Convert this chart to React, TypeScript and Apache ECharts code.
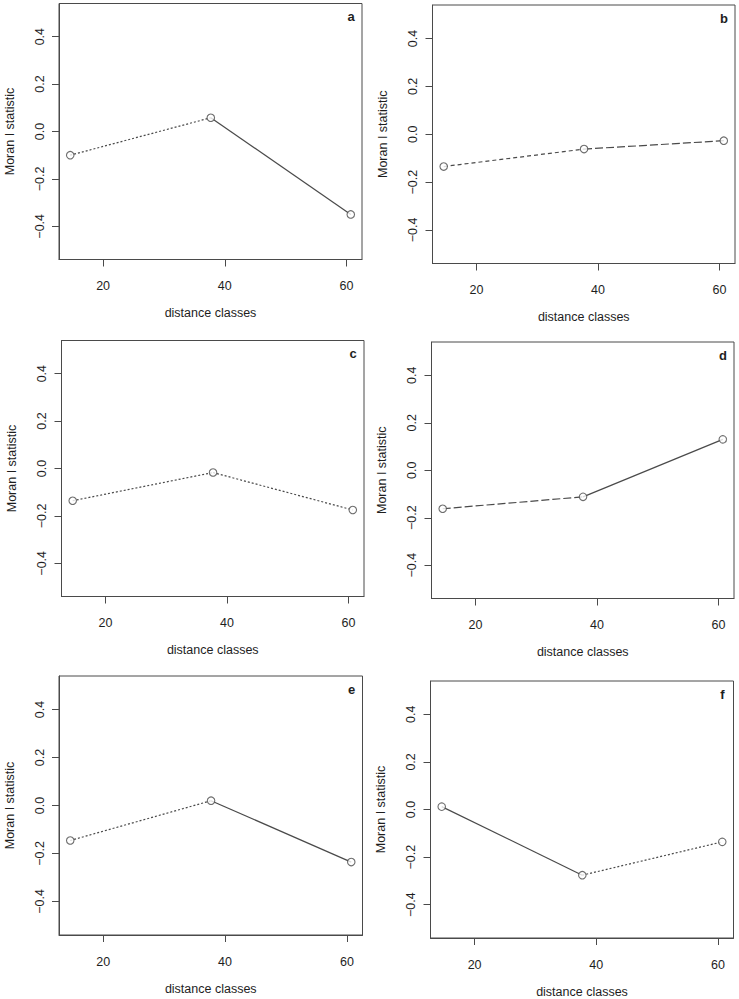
import React, { useEffect, useRef } from "react";
import * as echarts from "echarts";

// ---- data ----
const distanceClasses = [14.6, 37.7, 60.7];
const panelLetters = ["a", "b", "c", "d", "e", "f"];
const moranA = [-0.1, 0.058, -0.35];
const moranB = [-0.135, -0.062, -0.027];
const moranC = [-0.136, -0.017, -0.175];
const moranD = [-0.162, -0.112, 0.13];
const moranE = [-0.146, 0.02, -0.236];
const moranF = [0.012, -0.276, -0.136];
const xTickValues = [20, 40, 60];
const yTickValues = [-0.4, -0.2, 0, 0.2, 0.4];
const yLimits = [-0.5, 0.5];

const panelValues = [moranA, moranB, moranC, moranD, moranE, moranF];

// ---- layout / styles ----
const boxes = [
  { l: 59, t: 3.5, r: 362, b: 259.5 },
  { l: 432.5, t: 5, r: 735, b: 263.5 },
  { l: 61.5, t: 340.5, r: 364, b: 596.5 },
  { l: 431.5, t: 342, r: 734, b: 598.5 },
  { l: 59, t: 676, r: 362.5, b: 935 },
  { l: 430.5, t: 681, r: 733.5, b: 938.5 },
];
const DOT = [2, 2];
const DASH = [4, 3];
const LONG = [8, 3];
const segDash: any[][] = [
  [DOT, "solid"],
  [DASH, LONG],
  [DOT, DOT],
  [LONG, "solid"],
  [DOT, "solid"],
  ["solid", DOT],
];

const FONT = "'Liberation Sans', Arial, sans-serif";
const INK = "#4a4a4a";
const TXT = "#1e1e1e";

export default function App() {
  const ref = useRef<HTMLDivElement>(null);
  useEffect(() => {
    if (!ref.current) return;
    const chart = echarts.init(ref.current, null, { renderer: "svg" });
    const xr = Math.max(...distanceClasses) - Math.min(...distanceClasses);
    const xMin = Math.min(...distanceClasses) - 0.04 * xr;
    const xMax = Math.max(...distanceClasses) + 0.04 * xr;
    const yr = yLimits[1] - yLimits[0];
    const yMin = yLimits[0] - 0.04 * yr;
    const yMax = yLimits[1] + 0.04 * yr;

    const grids: any[] = [];
    const xAxes: any[] = [];
    const yAxes: any[] = [];
    const series: any[] = [];
    const graphics: any[] = [];

    boxes.forEach((bx, i) => {
      grids.push({
        left: bx.l,
        top: bx.t,
        width: bx.r - bx.l,
        height: bx.b - bx.t,
        show: true,
        borderColor: INK,
        borderWidth: 1,
        containLabel: false,
      });
      xAxes.push({
        type: "value",
        gridIndex: i,
        min: xMin,
        max: xMax,
        name: "distance classes",
        nameLocation: "middle",
        nameGap: 47,
        nameTextStyle: { fontFamily: FONT, fontSize: 12.5, color: TXT },
        axisLine: { show: true, onZero: false, lineStyle: { color: INK, width: 1 } },
        axisTick: {
          show: true,
          length: 7,
          customValues: xTickValues,
          lineStyle: { color: INK },
        },
        axisLabel: {
          show: true,
          customValues: xTickValues,
          margin: 20,
          fontFamily: FONT,
          fontSize: 12.5,
          color: TXT,
          formatter: (v: number) => String(Math.round(v)),
        },
        splitLine: { show: false },
      });
      yAxes.push({
        type: "value",
        gridIndex: i,
        min: yMin,
        max: yMax,
        name: "Moran I statistic",
        nameLocation: "middle",
        nameRotate: 90,
        nameGap: 43,
        nameTextStyle: { fontFamily: FONT, fontSize: 12.5, color: TXT },
        axisLine: { show: true, onZero: false, lineStyle: { color: INK, width: 1 } },
        axisTick: {
          show: true,
          length: 7,
          customValues: yTickValues,
          lineStyle: { color: INK },
        },
        axisLabel: {
          show: true,
          customValues: yTickValues,
          rotate: 90,
          margin: 13,
          fontFamily: FONT,
          fontSize: 12.5,
          color: TXT,
          formatter: (v: number) => v.toFixed(1).replace("-", "\u2212"),
        },
        splitLine: { show: false },
      });
      const vals = panelValues[i];
      const pts = distanceClasses.map((x, k) => [x, vals[k]]);
      for (let s = 0; s < pts.length - 1; s++) {
        series.push({
          type: "line",
          xAxisIndex: i,
          yAxisIndex: i,
          data: [pts[s], pts[s + 1]],
          showSymbol: false,
          lineStyle: { color: INK, width: 1.2, type: segDash[i][s] },
          z: 2,
          silent: true,
        });
      }
      series.push({
        type: "scatter",
        xAxisIndex: i,
        yAxisIndex: i,
        data: pts,
        symbol: "circle",
        symbolSize: 7.5,
        itemStyle: { color: "#ffffff", borderColor: INK, borderWidth: 1.1 },
        z: 3,
        silent: true,
      });
      graphics.push({
        type: "text",
        x: bx.r - 11,
        y: bx.t + 13,
        style: {
          text: panelLetters[i],
          fontFamily: FONT,
          fontSize: 13,
          fontWeight: "bold",
          fill: TXT,
          align: "center",
          verticalAlign: "middle",
        },
      });
    });

    chart.setOption({
      animation: false,
      backgroundColor: "#ffffff",
      grid: grids,
      xAxis: xAxes,
      yAxis: yAxes,
      series,
      graphic: graphics,
    });
    return () => chart.dispose();
  }, []);
  return (
    <div
      ref={ref}
      style={{ position: "fixed", left: 0, top: 0, width: 739, height: 999, background: "#fff" }}
    />
  );
}
